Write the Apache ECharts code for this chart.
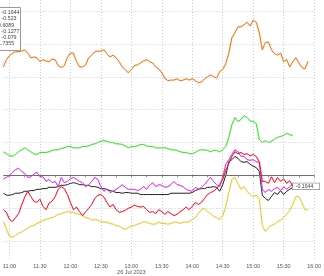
<!DOCTYPE html>
<html><head><meta charset="utf-8">
<script src="https://cdn.jsdelivr.net/npm/echarts@6/dist/echarts.min.js"></script>
<style>html,body{margin:0;padding:0;background:#fff;}#c{width:324px;height:276px;}</style>
</head><body><div id="c"></div>
<script>
// time axis: 3-minute steps from 10:54 to 16:00
const startMinute = 10 * 60 + 54;
const stepMinutes = 3;
const endMinute = 16 * 60;
const tickLabels = ['11:00','11:30','12:00','12:30','13:00','13:30','14:00','14:30','15:00','15:30','16:00'];
const dateLabel = '26 Jul 2023';
const dateUnder = '13:00';
const legendValues = ['-0.1644','-0.523','0.6089','-0.1277','-0.079','1.7355'];
const gridValues = [-1, -0.5, 0, 0.5, 1, 1.5, 2, 2.5];
const refLineValue = 0;
const lastTag = '-0.1644';

const orange = [1.65,1.76,1.82,1.86,1.88,1.88,1.89,1.91,1.86,1.79,1.80,1.79,1.73,1.76,1.74,1.73,1.77,1.76,1.67,1.64,1.67,1.79,1.86,1.86,1.73,1.65,1.65,1.68,1.79,1.83,1.88,1.89,1.89,1.91,1.85,1.80,1.83,1.79,1.73,1.65,1.61,1.56,1.61,1.67,1.68,1.71,1.74,1.76,1.73,1.71,1.65,1.62,1.56,1.48,1.44,1.45,1.45,1.47,1.44,1.45,1.47,1.45,1.47,1.44,1.41,1.42,1.47,1.50,1.53,1.50,1.48,1.58,1.61,1.70,1.86,2.09,2.17,2.26,2.26,2.29,2.33,2.27,2.36,2.33,2.17,1.91,2.02,2.03,1.91,1.85,1.83,1.86,1.73,1.76,1.65,1.73,1.79,1.71,1.64,1.62,1.7355];
const green = [0.36,0.33,0.30,0.29,0.32,0.36,0.39,0.42,0.39,0.36,0.33,0.32,0.35,0.35,0.35,0.36,0.38,0.39,0.39,0.41,0.42,0.44,0.44,0.42,0.42,0.42,0.44,0.44,0.45,0.47,0.48,0.50,0.52,0.53,0.52,0.50,0.50,0.48,0.48,0.47,0.45,0.42,0.44,0.44,0.45,0.47,0.47,0.45,0.44,0.44,0.42,0.42,0.42,0.42,0.41,0.39,0.39,0.38,0.36,0.35,0.35,0.33,0.33,0.35,0.38,0.39,0.39,0.38,0.36,0.38,0.38,0.36,0.39,0.44,0.58,0.77,0.88,0.82,0.85,0.91,0.88,0.83,0.82,0.79,0.55,0.50,0.53,0.50,0.52,0.55,0.58,0.59,0.61,0.64,0.62,0.6089];
const yellow = [-0.70,-0.82,-0.92,-0.94,-0.91,-0.88,-0.86,-0.83,-0.80,-0.77,-0.76,-0.73,-0.71,-0.68,-0.67,-0.65,-0.64,-0.62,-0.59,-0.58,-0.56,-0.55,-0.56,-0.56,-0.58,-0.59,-0.61,-0.64,-0.65,-0.68,-0.67,-0.68,-0.70,-0.71,-0.71,-0.73,-0.74,-0.76,-0.77,-0.80,-0.82,-0.79,-0.77,-0.76,-0.74,-0.73,-0.70,-0.71,-0.73,-0.74,-0.74,-0.71,-0.73,-0.73,-0.74,-0.73,-0.71,-0.71,-0.73,-0.71,-0.71,-0.70,-0.67,-0.64,-0.58,-0.52,-0.50,-0.55,-0.58,-0.62,-0.64,-0.67,-0.61,-0.47,-0.26,-0.06,-0.03,-0.12,-0.21,-0.17,-0.24,-0.29,-0.32,-0.30,-0.36,-0.76,-0.85,-0.79,-0.76,-0.74,-0.70,-0.68,-0.64,-0.59,-0.53,-0.44,-0.32,-0.32,-0.41,-0.52,-0.523];
const black = [-0.27,-0.30,-0.30,-0.29,-0.27,-0.27,-0.26,-0.24,-0.24,-0.23,-0.23,-0.21,-0.21,-0.20,-0.20,-0.18,-0.18,-0.18,-0.17,-0.15,-0.15,-0.14,-0.12,-0.11,-0.12,-0.14,-0.14,-0.15,-0.15,-0.17,-0.17,-0.18,-0.20,-0.20,-0.21,-0.23,-0.24,-0.26,-0.26,-0.27,-0.26,-0.26,-0.27,-0.27,-0.27,-0.29,-0.29,-0.29,-0.29,-0.29,-0.29,-0.29,-0.29,-0.29,-0.29,-0.27,-0.27,-0.27,-0.27,-0.27,-0.27,-0.27,-0.26,-0.23,-0.21,-0.20,-0.20,-0.18,-0.18,-0.17,-0.18,-0.24,-0.14,0.00,0.21,0.24,0.29,0.26,0.21,0.20,0.21,0.17,0.14,0.12,0.06,-0.30,-0.35,-0.38,-0.32,-0.26,-0.29,-0.23,-0.29,-0.24,-0.21,-0.18];
const magenta = [-0.05,-0.03,0.00,0.05,0.09,0.11,0.06,0.03,-0.03,-0.02,0.02,0.05,-0.02,-0.02,-0.09,-0.06,-0.11,-0.09,-0.17,-0.03,-0.11,-0.09,-0.05,-0.03,-0.06,-0.09,-0.11,-0.17,-0.14,-0.09,-0.03,-0.06,-0.17,-0.24,-0.21,-0.26,-0.24,-0.21,-0.18,-0.14,-0.18,-0.21,-0.21,-0.21,-0.23,-0.21,-0.17,-0.21,-0.15,-0.11,-0.17,-0.14,-0.15,-0.18,-0.17,-0.14,-0.09,-0.14,-0.15,-0.17,-0.21,-0.23,-0.24,-0.18,-0.21,-0.18,-0.14,-0.08,-0.03,-0.09,-0.14,-0.17,-0.03,0.17,0.24,0.32,0.39,0.36,0.29,0.29,0.24,0.23,0.24,0.21,0.20,-0.21,-0.26,-0.21,-0.24,-0.20,-0.18,-0.23,-0.17,-0.21,-0.17,-0.1277];
const red = [-0.52,-0.56,-0.67,-0.70,-0.64,-0.58,-0.45,-0.33,-0.24,-0.32,-0.39,-0.41,-0.36,-0.47,-0.52,-0.42,-0.39,-0.32,-0.21,-0.17,-0.20,-0.29,-0.41,-0.52,-0.48,-0.55,-0.61,-0.55,-0.50,-0.44,-0.35,-0.30,-0.29,-0.33,-0.41,-0.48,-0.44,-0.52,-0.56,-0.55,-0.53,-0.50,-0.48,-0.45,-0.47,-0.48,-0.47,-0.52,-0.56,-0.55,-0.58,-0.52,-0.55,-0.59,-0.55,-0.58,-0.61,-0.59,-0.55,-0.52,-0.48,-0.52,-0.47,-0.41,-0.44,-0.41,-0.35,-0.29,-0.26,-0.24,-0.20,-0.14,-0.06,0.08,0.18,0.29,0.36,0.33,0.35,0.32,0.33,0.30,0.32,0.29,0.21,-0.09,-0.09,-0.12,-0.02,-0.11,-0.03,-0.09,-0.05,-0.12,-0.08,-0.1644];

const categories = [];
for (let m = startMinute; m <= endMinute; m += stepMinutes) {
  const h = Math.floor(m / 60), mm = m % 60;
  categories.push(h + ':' + (mm < 10 ? '0' : '') + mm);
}
function minuteOf(s) { const p = s.split(':'); return +p[0] * 60 + +p[1]; }

const chart = echarts.init(document.getElementById('c'), null, {renderer: 'canvas'});
const font = 'Liberation Sans';
function lineSeries(name, data, color, glow, z) {
  return {
    name, type: 'line', data, showSymbol: false, symbol: 'none', z: z || 2,
    lineStyle: {color, width: 1, shadowBlur: glow ? 2 : 0, shadowColor: glow || 'transparent'},
    emphasis: {disabled: true}, silent: true, animation: false
  };
}
const series = [
  lineSeries('Yellow', yellow, '#d9cb52', 'rgba(240,225,120,0.8)', 2),
  lineSeries('Green', green, '#52cf45', 'rgba(140,230,130,0.7)', 2),
  lineSeries('Black', black, '#1c1c1c', null, 3),
  lineSeries('Magenta', magenta, '#c23fcc', 'rgba(220,140,230,0.6)', 4),
  lineSeries('Red', red, '#c3243a', 'rgba(230,120,130,0.5)', 5),
  lineSeries('Orange', orange, '#c4823e', 'rgba(250,190,120,0.9)', 2)
];
series[0].markLine = {
  silent: true, symbol: 'none', animation: false, label: {show: false},
  data: gridValues.map(v => ({yAxis: v, lineStyle: {type: [1, 2], color: '#c9c9c9', width: 1}}))
    .concat([{yAxis: refLineValue, lineStyle: {type: 'solid', color: '#6e6e6e', width: 1}}])
};
// last-value tag for the red series, placed through the scale
series[4].markPoint = {
  silent: true, animation: false, symbol: 'rect', symbolSize: [0, 0],
  data: [{coord: [red.length - 1, red[red.length - 1]]}],
  label: {
    show: true, formatter: lastTag, position: 'right', distance: 0,
    fontSize: 5.2, fontFamily: font, color: '#444',
    backgroundColor: 'rgba(255,255,255,0.85)', borderColor: '#8a8a8a', borderWidth: 0.6, padding: [1, 6, 0, 3]
  }
};
chart.setOption({
  animation: false,
  backgroundColor: '#ffffff',
  grid: {left: 0, right: 0, top: 0, bottom: 14, containLabel: false},
  xAxis: {
    type: 'category', data: categories, boundaryGap: false,
    axisLine: {lineStyle: {color: '#9a9a9a', width: 1}},
    axisTick: {show: true, length: 2, interval: (i, v) => minuteOf(v) % 15 === 0, lineStyle: {color: '#9a9a9a'}},
    axisLabel: {
      interval: (i, v) => tickLabels.indexOf(v) >= 0,
      fontSize: 5.5, fontFamily: font, color: '#555', margin: 2, lineHeight: 6.5,
      formatter: v => v === dateUnder ? v + '\n' + dateLabel : v,
      showMaxLabel: true, showMinLabel: true
    },
    splitLine: {show: true, interval: (i, v) => tickLabels.indexOf(v) >= 0, lineStyle: {type: [1, 2], color: '#c9c9c9'}}
  },
  yAxis: {type: 'value', min: -1.3, max: 2.667, show: false, splitLine: {show: false}},
  series,
  graphic: [
    {type: 'rect', shape: {x: -30, y: 7.5, width: 50.5, height: 43}, style: {fill: '#fff', stroke: '#9a9a9a', lineWidth: 1}, z: 100},
    ...legendValues.map((t, i) => ({
      type: 'text', z: 101,
      style: {text: t, x: (t[0] === '-' ? 1.5 : -2), y: 12.5 + i * 6.3, fill: '#444', font: '5.3px ' + font, textVerticalAlign: 'middle'}
    }))
  ]
});
</script></body></html>
